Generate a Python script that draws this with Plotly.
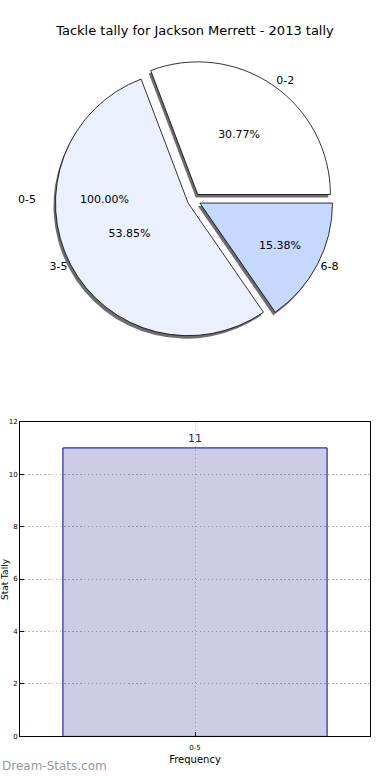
import plotly.graph_objects as go

# ---- data ----
pie_labels = ["0-2", "3-5", "6-8"]
pie_values = [4, 7, 2]
pie_colors = ["#FFFFFF", "#EAF0FE", "#C5D8FE"]
pie_pull = [0.05, 0.05, 0.05]

bar_categories = ["0-5"]
bar_values = [11]
y_ticks = [0, 2, 4, 6, 8, 10, 12]

title_text = "Tackle tally for Jackson Merrett - 2013 tally"
FONT = "DejaVu Sans"

W, H = 390, 780
cx, cy, r = 194, 198, 134
half = r * 1.05

# first slice starts at 3 o'clock and runs counter-clockwise
rot = 90 - 360 * pie_values[0] / sum(pie_values)


def dom(cx, cy, half):
    return dict(x=[(cx - half) / W, (cx + half) / W],
                y=[(H - cy - half) / H, (H - cy + half) / H])


fig = go.Figure()

# shadow
fig.add_trace(go.Pie(
    labels=pie_labels, values=pie_values, sort=False, direction="counterclockwise",
    rotation=rot, pull=pie_pull, domain=dom(cx - 2, cy + 3, half),
    marker=dict(colors=["rgba(60,60,60,0.75)"] * 3, line=dict(width=0)),
    textinfo="none", hoverinfo="skip", showlegend=False))

# main pie with percentages inside
fig.add_trace(go.Pie(
    labels=pie_labels, values=pie_values, sort=False, direction="counterclockwise",
    rotation=rot, pull=pie_pull, domain=dom(cx, cy, half),
    marker=dict(colors=pie_colors, line=dict(color="#000000", width=0.8)),
    texttemplate="%{percent:.2%}", textposition="inside",
    insidetextorientation="horizontal",
    textfont=dict(family=FONT, size=11, color="#000000"),
    showlegend=False))

# labels outside
fig.add_trace(go.Pie(
    labels=pie_labels, values=pie_values, sort=False, direction="counterclockwise",
    rotation=rot, pull=pie_pull, domain=dom(cx, cy, half),
    marker=dict(colors=["rgba(0,0,0,0)"] * 3, line=dict(width=0)),
    texttemplate="%{label}", textposition="outside",
    outsidetextfont=dict(family=FONT, size=11, color="#000000"),
    hoverinfo="skip", showlegend=False))

# bar chart
fig.add_trace(go.Bar(
    x=bar_categories, y=bar_values, width=0.8,
    marker=dict(color="rgba(0,0,128,0.2)", line=dict(color="#000090", width=1)),
    text=[str(v) for v in bar_values], textposition="outside",
    textfont=dict(family=FONT, size=11, color="#1a1a8a"),
    cliponaxis=False, showlegend=False, xaxis="x", yaxis="y"))

grid = dict(showgrid=True, gridcolor="#b8b8b8", griddash="1.5px,2.5px", gridwidth=1)

fig.update_layout(
    width=W, height=H, autosize=False,
    margin=dict(l=0, r=0, t=0, b=0),
    paper_bgcolor="white", plot_bgcolor="white",
    font=dict(family=FONT, color="#000000"),
    title=dict(text=title_text, x=0.5, xanchor="center", y=1 - 30 / H, yanchor="middle",
               font=dict(family=FONT, size=13, color="#000000")),
    xaxis=dict(domain=[20 / W, 370 / W], range=[-0.53, 0.53], type="category",
               showline=True, mirror=True, linecolor="#000000", linewidth=1,
               ticks="inside", ticklen=4, tickcolor="#000000",
               tickfont=dict(family=FONT, size=7), ticklabelstandoff=4,
               title=dict(text="Frequency", font=dict(family=FONT, size=10), standoff=5),
               anchor="y", **grid),
    yaxis=dict(domain=[1 - 740 / H, 1 - 422 / H], range=[0, 12], tickvals=y_ticks,
               showline=True, mirror=True, linecolor="#000000", linewidth=1,
               ticks="inside", ticklen=4, tickcolor="#000000",
               tickfont=dict(family=FONT, size=7),
               zeroline=False, anchor="x", **grid),
    annotations=[
        dict(text="0-5", x=27 / W, y=1 - 198 / H, xref="paper", yref="paper",
             xanchor="center", yanchor="middle",
             showarrow=False, font=dict(family=FONT, size=11, color="#000000")),
        dict(text="100.00%", x=104 / W, y=1 - 198 / H, xref="paper", yref="paper",
             xanchor="center", yanchor="middle",
             showarrow=False, font=dict(family=FONT, size=11, color="#000000")),
        dict(text="Stat Tally", x=5 / W, y=1 - 581 / H, xref="paper", yref="paper",
             xanchor="center", yanchor="middle", showarrow=False, textangle=-90,
             font=dict(family=FONT, size=9, color="#000000")),
        dict(text="Dream-Stats.com", x=0, y=1 - 770 / H, xref="paper", yref="paper",
             xanchor="left", yanchor="middle", showarrow=False,
             font=dict(family=FONT, size=12, color="#999999")),
    ],
)

fig.write_html("out.html", config={"displayModeBar": False},
               post_script="document.body.style.margin='0';")
